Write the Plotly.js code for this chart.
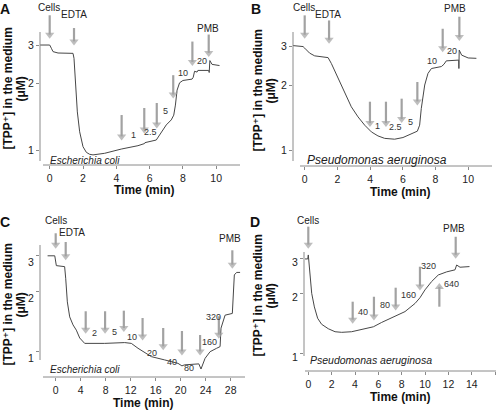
<!DOCTYPE html>
<html>
<head>
<meta charset="utf-8">
<script src="https://cdn.plot.ly/plotly-3.0.1.min.js"></script>
<style>
html,body{margin:0;padding:0;background:#fff;}
#chart{width:500px;height:411px;}
</style>
</head>
<body>
<div id="chart"></div>
<script>
// ---------------- DATA ----------------
// Panel A – Escherichia coli, time (min) and [TPP+] (µM)
const timeA = [-0.58, 0.0, 0.1, 0.2, 0.5, 0.8, 1.4, 1.46, 1.54, 1.66, 1.8, 2.0, 2.2, 2.4, 2.6, 3.3, 4.3, 5.3, 5.7, 5.72, 6.4, 6.6, 7.0, 7.3, 7.45, 7.55, 7.65, 7.8, 8.0, 8.55, 8.62, 8.7, 8.85, 8.9, 9.55, 9.58, 9.62, 9.75, 10.2];
const tppA  = [3.0, 3.0, 2.9, 2.8, 2.76, 2.75, 2.75, 2.61, 1.98, 1.49, 1.21, 1.035, 0.976, 0.956, 0.95, 0.966, 1.01, 1.046, 1.07, 1.08, 1.11, 1.17, 1.30, 1.37, 1.44, 1.60, 1.87, 2.02, 2.07, 2.10, 2.14, 2.28, 2.26, 2.30, 2.30, 2.25, 2.55, 2.45, 2.42];
const arrowTimeA = [0, 1.46, 4.32, 5.68, 6.43, 7.42, 8.57, 9.55];
const arrowTppA  = [3.22, 3.0, 1.11, 1.195, 1.259, 1.72, 2.42, 2.66];
const doseTextA = ['1', '2.5', '5', '10', '20'];
const doseTimeA = [5.02, 6.08, 6.97, 8.02, 9.13];
const doseTppA  = [1.17, 1.207, 1.50, 2.24, 2.54];
const eventTextA = ['Cells', 'EDTA', 'PMB'];
const eventTimeA = [-0.04, 1.43, 9.53];

// Panel B – Pseudomonas aeruginosa
const timeB = [-0.72, -0.1, 0.0, 0.3, 0.61, 1.43, 1.63, 2.04, 2.44, 2.85, 3.26, 3.67, 4.08, 4.48, 4.89, 5.5, 6.01, 6.52, 6.89, 7.03, 7.13, 7.34, 7.54, 7.75, 8.36, 8.52, 8.66, 9.38, 9.42, 9.43, 9.45, 9.6, 10.0, 10.5];
const tppB  = [3.03, 3.0, 2.95, 2.80, 2.72, 2.67, 2.51, 2.15, 1.83, 1.59, 1.43, 1.31, 1.22, 1.17, 1.14, 1.13, 1.15, 1.19, 1.23, 1.31, 1.56, 2.0, 2.26, 2.38, 2.43, 2.49, 2.58, 2.60, 2.60, 2.38, 2.89, 2.74, 2.66, 2.65];
const arrowTimeB = [0, 1.49, 3.99, 4.97, 5.93, 6.89, 8.44, 9.46];
const arrowTppB  = [3.27, 3.10, 1.289, 1.289, 1.345, 1.62, 2.84, 3.19];
const doseTextB = ['1', '2.5', '5', '10', '20'];
const doseTimeB = [4.44, 5.54, 6.48, 7.77, 8.99];
const doseTppB  = [1.299, 1.289, 1.359, 2.585, 2.87];
const eventTextB = ['Cells', 'EDTA', 'PMB'];
const eventTimeB = [-0.04, 1.45, 9.19];

// Panel C – Escherichia coli
const timeC = [-1.3, -0.15, 0.1, 1.43, 1.6, 1.86, 2.24, 2.77, 3.3, 3.84, 4.64, 7.84, 11.04, 12.1, 13.17, 15.3, 17.44, 19.57, 20.2, 20.6, 22.9, 23.25, 23.9, 24.7, 25.75, 26.3, 26.45, 27.1, 28.26, 28.58, 28.95, 29.5];
const tppC  = [3.0, 3.0, 2.68, 2.65, 2.32, 1.77, 1.49, 1.36, 1.28, 1.17, 1.10, 1.10, 1.11, 1.10, 1.04, 0.945, 0.91, 0.875, 0.85, 0.86, 0.87, 0.82, 0.927, 1.0, 1.04, 1.06, 1.31, 1.52, 1.55, 2.41, 2.48, 2.48];
const arrowTimeC = [0, 1.6, 4.8, 7.9, 10.9, 13.9, 17.2, 20.2, 23.1, 26.1, 28.26];
const arrowTppC  = [3.27, 2.86, 1.235, 1.235, 1.258, 1.143, 1.02, 0.963, 0.963, 1.166, 2.60];
const doseTextC = ['2', '5', '10', '20', '40', '80', '160', '320'];
const doseTimeC = [6.18, 9.38, 12.26, 15.36, 18.56, 21.38, 24.53, 25.22];
const doseTppC  = [1.235, 1.258, 1.187, 0.989, 0.892, 0.833, 1.114, 1.483];
const eventTextC = ['Cells', 'EDTA', 'PMB'];
const eventTimeC = [0, 2.56, 27.9];

// Panel D – Pseudomonas aeruginosa
const timeD = [-0.28, -0.05, 0.0, 0.06, 0.15, 0.29, 0.52, 0.80, 1.14, 1.71, 2.29, 2.86, 3.71, 4.57, 5.57, 6.28, 7.42, 8.28, 9.14, 9.56, 9.99, 10.56, 11.13, 11.85, 12.56, 12.7, 12.99, 13.8];
const tppD  = [2.97, 2.97, 3.11, 2.77, 2.38, 2.0, 1.71, 1.50, 1.40, 1.33, 1.285, 1.276, 1.285, 1.32, 1.36, 1.43, 1.54, 1.62, 1.78, 1.90, 2.08, 2.29, 2.47, 2.56, 2.62, 2.77, 2.70, 2.72];
const arrowTimeD = [0, 3.8, 5.62, 7.48, 9.56, 11.22, 12.62];
const arrowTppD  = [3.36, 1.416, 1.47, 1.65, 2.077, 2.244, 2.99];
const doseTextD = ['40', '80', '160', '320', '640'];
const doseTimeD = [4.71, 6.57, 8.56, 10.27, 12.28];
const doseTppD  = [1.618, 1.748, 1.961, 2.748, 2.226];
const eventTextD = ['Cells', 'PMB'];
const eventTimeD = [0, 12.5];

const xTicksA = [0, 2, 4, 6, 8, 10];
const xTicksB = [0, 2, 4, 6, 8, 10];
const xTicksC = [0, 4, 8, 12, 16, 20, 24, 28];
const xTicksD = [0, 2, 4, 6, 8, 10, 12, 14, 16];
const yTicks = [1, 2, 3];
const speciesA = 'Escherichia coli', speciesB = 'Pseudomonas aeruginosa';
const yTitle1 = '[TPP⁺] in the medium', yTitle2 = '(μM)', xTitle = 'Time (min)';

// ---------------- LAYOUT / STYLE ----------------
const W = 500, H = 411;
const FONT = 'Arial, "Liberation Sans", "DejaVu Sans", sans-serif';
const panels = [
  { n: '', letter: 'A', time: timeA, tpp: tppA, xt: xTicksA,
    g: { xL: 40, xR: 242, t0: 49.7, ppm: 16.65, yT: 8, yB: 165, y0: 150, ppd: 220, yLine: [32, 161], xLine: [43, 240], shift: 0 },
    arrows: { t: arrowTimeA, v: arrowTppA, len: [23, 17, 25, 25, 25, 23, 24, 22] },
    dose: { text: doseTextA, t: doseTimeA, v: doseTppA },
    ev: { text: eventTextA, t: eventTimeA, py: [7.5, 15, 28.3] },
    species: speciesA, spx: 48, spy: 160, sps: 10,
    letterPos: [5, 9], ytx: 7.5, yty: 89, xtx: 144, xty: 190 },
  { n: '2', letter: 'B', time: timeB, tpp: tppB, xt: xTicksB,
    g: { xL: 293, xR: 492, t0: 304.7, ppm: 16.35, yT: 8, yB: 166, y0: 150.8, ppd: 218.5, yLine: [32, 161], xLine: [300, 492], shift: 0 },
    arrows: { t: arrowTimeB, v: arrowTppB, len: [23, 23, 25, 25, 24, 23, 23, 24] },
    dose: { text: doseTextB, t: doseTimeB, v: doseTppB },
    ev: { text: eventTextB, t: eventTimeB, py: [7.5, 15, 8.5] },
    species: speciesB, spx: 305, spy: 159.5, sps: 12,
    letterPos: [256, 9], ytx: 257.5, yty: 91, xtx: 400, xty: 191.5 },
  { n: '3', letter: 'C', time: timeC, tpp: tppC, xt: xTicksC,
    g: { xL: 40, xR: 246, t0: 55.7, ppm: 6.25, yT: 225, yB: 377, y0: 351.7, ppd: 201, yLine: [245, 360], xLine: [43, 245], shift: 7 },
    arrows: { t: arrowTimeC, v: arrowTppC, len: [15, 18, 22, 22, 21, 22, 22, 24, 20, 22, 18] },
    dose: { text: doseTextC, t: doseTimeC, v: doseTppC },
    ev: { text: eventTextC, t: eventTimeC, py: [220, 232.3, 238.3] },
    species: speciesA, spx: 48, spy: 369, sps: 10,
    letterPos: [5, 222], ytx: 7.5, yty: 305, xtx: 143.3, xty: 403 },
  { n: '4', letter: 'D', time: timeD, tpp: tppD, xt: xTicksD,
    g: { xL: 304, xR: 497, t0: 308.3, ppm: 11.68, yT: 222, yB: 371, y0: 353.5, ppd: 200, yLine: [252, 356], xLine: [305, 496], shift: 4 },
    arrows: { t: arrowTimeD, v: arrowTppD, len: [21.6, 21.6, 23.3, 22.3, 23.3, -23.4, 21.6] },
    dose: { text: doseTextD, t: doseTimeD, v: doseTppD },
    ev: { text: eventTextD, t: eventTimeD, py: [220, 228.3] },
    species: speciesB, spx: 308, spy: 360, sps: 10.5,
    letterPos: [255, 222], ytx: 257.5, yty: 296, xtx: 400, xty: 397 }
];

const traces = [], shapes = [], annotations = [];
const layout = {
  width: W, height: H, margin: { l: 0, r: 0, t: 0, b: 0 },
  showlegend: false, paper_bgcolor: '#fff', plot_bgcolor: 'rgba(0,0,0,0)',
  font: { family: FONT, color: '#222' }
};
const px = x => x / W, py = y => 1 - y / H;
const AXIS_COL = '#8a8a8a', ARROW_COL = '#a2a2a2';
const HEAD = 8;   // arrow head size in px

function txt(o) { return Object.assign({ showarrow: false, xanchor: 'center', yanchor: 'middle' }, o); }

panels.forEach(p => {
  const g = p.g, xa = 'x' + p.n, ya = 'y' + p.n;
  layout['xaxis' + p.n] = {
    domain: [px(g.xL), px(g.xR)],
    range: [(g.xL - g.t0) / g.ppm, (g.xR - g.t0) / g.ppm],
    anchor: ya, tickmode: 'array', tickvals: p.xt, ticktext: p.xt.map(String),
    ticks: 'outside', ticklen: 3, tickcolor: AXIS_COL, tickwidth: 1,
    showline: false, showgrid: false, zeroline: false,
    tickfont: { size: 10.5, color: '#222', family: FONT }, fixedrange: true
  };
  layout['yaxis' + p.n] = {
    type: 'log',
    domain: [py(g.yB), py(g.yT)],
    range: [(g.y0 - g.yB) / g.ppd, (g.y0 - g.yT) / g.ppd],
    anchor: xa, tickmode: 'array', tickvals: yTicks, ticktext: yTicks.map(String),
    ticks: 'outside', ticklen: 3, tickcolor: AXIS_COL, tickwidth: 1,
    ticklabelshift: g.shift,
    showline: false, showgrid: false, zeroline: false,
    tickfont: { size: 10.5, color: '#222', family: FONT }, fixedrange: true
  };
  traces.push({ x: p.time, y: p.tpp, xaxis: xa, yaxis: ya, type: 'scatter', mode: 'lines',
    line: { color: '#474747', width: 1 }, hoverinfo: 'skip' });

  // addition arrows: shaft (line) + head (triangle marker), through the axis scales
  const ax = [], ay = [], sym = [], size = [];
  p.arrows.t.forEach((t, i) => {
    const len = p.arrows.len[i], dir = len > 0 ? 1 : -1;
    const tip = p.arrows.v[i];
    const headCentre = tip * Math.pow(10, dir * (HEAD * 0.45) / g.ppd);
    const tail = tip * Math.pow(10, len / g.ppd);
    ax.push(t, t, null); ay.push(tail, headCentre, null);
    sym.push('circle', dir > 0 ? 'triangle-down' : 'triangle-up', 'circle');
    size.push(0, HEAD, 0);
  });
  traces.push({ x: ax, y: ay, xaxis: xa, yaxis: ya, type: 'scatter', mode: 'lines+markers',
    connectgaps: false, cliponaxis: false,
    line: { color: ARROW_COL, width: 2.2 },
    marker: { symbol: sym, size: size, color: ARROW_COL, line: { width: 0 } },
    hoverinfo: 'skip' });

  // axis lines
  shapes.push({ type: 'line', xref: 'paper', yref: 'paper', x0: px(g.xL), x1: px(g.xL), y0: py(g.yLine[1]), y1: py(g.yLine[0]), line: { color: AXIS_COL, width: 1 } });
  shapes.push({ type: 'line', xref: 'paper', yref: 'paper', x0: px(g.xLine[0]), x1: px(g.xLine[1]), y0: py(g.yB), y1: py(g.yB), line: { color: AXIS_COL, width: 1 } });

  // dose labels
  p.dose.text.forEach((s, i) => {
    annotations.push(txt({ xref: xa, yref: ya, x: p.dose.t[i], y: Math.log10(p.dose.v[i]), text: s,
      font: { size: 9, color: '#333', family: FONT } }));
  });
  // event labels (Cells / EDTA / PMB)
  p.ev.text.forEach((s, i) => {
    annotations.push(txt({ xref: xa, yref: 'paper', x: p.ev.t[i], y: py(p.ev.py[i]), text: s,
      font: { size: 10, color: '#222', family: FONT } }));
  });
  // species name
  annotations.push(txt({ xref: 'paper', yref: 'paper', x: px(p.spx), y: py(p.spy), xanchor: 'left', text: p.species,
    font: { size: p.sps, color: '#222', family: FONT, style: 'italic' } }));
  // panel letter
  annotations.push(txt({ xref: 'paper', yref: 'paper', x: px(p.letterPos[0]), y: py(p.letterPos[1]), text: p.letter,
    font: { size: 14, color: '#111', family: FONT, weight: 'bold' } }));
  // axis titles
  annotations.push(txt({ xref: 'paper', yref: 'paper', x: px(p.xtx), y: py(p.xty), text: xTitle,
    font: { size: 12, color: '#111', family: FONT, weight: 'bold' } }));
  annotations.push(txt({ xref: 'paper', yref: 'paper', x: px(p.ytx), y: py(p.yty), text: yTitle1, textangle: -90,
    font: { size: 12, color: '#111', family: FONT, weight: 'bold' } }));
  annotations.push(txt({ xref: 'paper', yref: 'paper', x: px(p.ytx + 13), y: py(p.yty), text: yTitle2, textangle: -90,
    font: { size: 12, color: '#111', family: FONT, weight: 'bold' } }));
});

layout.shapes = shapes;
layout.annotations = annotations;
Plotly.newPlot('chart', traces, layout, { staticPlot: true, displayModeBar: false });
</script>
</body>
</html>
